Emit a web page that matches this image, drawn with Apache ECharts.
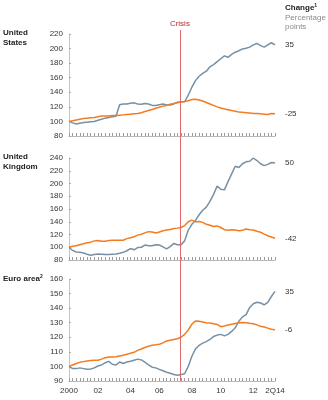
<!DOCTYPE html>
<html>
<head>
<meta charset="utf-8">
<script src="https://cdn.jsdelivr.net/npm/echarts@6/dist/echarts.min.js"></script>
<style>
html,body{margin:0;padding:0;background:#fff;}
#c{width:328px;height:400px;}
</style>
</head>
<body>
<div id="c"></div>
<script>
// Quarters, 1Q00 .. 2Q14
const quarters = [
 '1Q00','2Q00','3Q00','4Q00','1Q01','2Q01','3Q01','4Q01','1Q02','2Q02','3Q02','4Q02',
 '1Q03','2Q03','3Q03','4Q03','1Q04','2Q04','3Q04','4Q04','1Q05','2Q05','3Q05','4Q05',
 '1Q06','2Q06','3Q06','4Q06','1Q07','2Q07','3Q07','4Q07','1Q08','2Q08','3Q08','4Q08',
 '1Q09','2Q09','3Q09','4Q09','1Q10','2Q10','3Q10','4Q10','1Q11','2Q11','3Q11','4Q11',
 '1Q12','2Q12','3Q12','4Q12','1Q13','2Q13','3Q13','4Q13','1Q14','2Q14'
];

// Panels
const regions = ['United\nStates', 'United\nKingdom', 'Euro area'];
const regionNotes = ['', '', '2'];

// Index values (2000 = 100)
const usBlue = [100,98,96.5,97.5,98.5,99,99.5,100,101.5,103,104.5,105.5,106.5,107,123,124,124,125,125.5,124,
 123.5,124.5,124,122,122,123,124,122.5,122.5,124,126.5,127,127,136,147,156,162,166,169,175,
 178,182,186,190,188,192,195,197,199.5,200.5,202,205,207,204,202,205,208,205];
const usOrange = [100,101,102,103,104,104.5,105,105.5,106.5,107.5,107.5,107.5,108,108,108.5,109,109.5,110,110.5,111,
 112,113.5,115,116.5,118,119.5,121,122,123.5,124.5,125.5,126.5,127.5,128.5,130,130.5,129.5,128,126,124,
 122,120,118.5,117,116,115,114,113,112.5,112,111.5,111,111,110.5,110,109.5,111,110.5];

const ukBlue = [100,95,92.5,92,91,89,87.5,88.5,89.5,89,88.5,88.5,89,89.5,90.5,92,94.5,98,96,99.5,
 100,103.5,102.5,102.5,104,103.5,100.5,97.5,101,106,104,104,110,127,136,142,151,158,163,172,
 183,196,191,190,203,215,227,225,231,234,235,240,236,231,228,230,233,232];
const ukOrange = [100,101.5,102.5,104,105.5,107,108,110,110.5,109.5,109.5,110.5,111,111,111,111,113.5,115,116.5,119,
 120.5,122.5,124.5,124,122.5,124,126,127,128,129.5,130,131,134,140,142.5,140,140.5,139,136,134.5,
 132.5,133.5,131,127.5,126.5,127.5,127,126,126.5,128.5,127.5,127,125,123.5,120.5,118,116,114];

const euBlue = [100,98.5,98.5,99,98.5,98,98.3,99,100.3,101,102.5,103.5,101.5,101,103,102,103,103.5,104.3,105,
 104.5,103,101,99.5,99,98,97,96,95.3,94.5,94,94.5,95,100,107,112,114.5,116,117,118.5,
 120.5,121.5,122,121,122,124,126.5,131,134,135.5,140.5,143,144,143.5,142.3,144,148,151.5];
const euOrange = [100,101,102,102.8,103.3,103.7,104,104.2,104.3,105,106,106.4,106.5,106.7,107.2,107.7,108.3,109,109.7,111,
 112,113,113.8,114.5,114.8,115.2,116.2,117.5,118,118.5,119,120,122,125,129,131.2,131,130.5,130,129.8,
 129.3,128.8,127.3,127.8,128.5,129,129.5,130,130.2,130,129.6,129.3,128.5,127.5,127,126.3,125.5,125.2];

// Change, percentage points
const changeBlue = ['35', '50', '35'];
const changeOrange = ['-25', '-42', '-6'];

// Axis ticks
const yMin = [80, 80, 90];
const yMax = [220, 240, 160];
const yStep = [20, 20, 10];
const xTickLabels = ['2000', '02', '04', '06', '08', '10', '12', '2Q14'];
const xTickAt = [2000, 2002, 2004.25, 2006.25, 2008.5, 2010.5, 2012.75, 2014.25];
const crisisAt = 2007.67;
const crisisLabel = 'Crisis';

const FONT = "'Liberation Sans', Arial, sans-serif";
const BLUE = '#7790a3';
const ORANGE = '#f47b20';

function qx(q) { return 2000 + Number(q.slice(2)) + (Number(q[0]) - 1) / 4; }
function pairs(vals) { return vals.map((v, i) => [qx(quarters[i]), v]); }

const panels = [[usBlue, usOrange], [ukBlue, ukOrange], [euBlue, euOrange]];
const tops = [34, 158, 279];
const H = 102;

const grids = [], xAxes = [], yAxes = [], series = [];
for (let p = 0; p < 3; p++) {
  grids.push({ left: 69, width: 206, top: tops[p], height: H });
  xAxes.push({
    type: 'value', gridIndex: p, min: 2000, max: 2014.25, interval: 0.25,
    axisLine: { show: true, lineStyle: { color: '#b8b8b8', width: 1 } },
    axisTick: { show: true, inside: true, length: 3, lineStyle: { color: '#9a9a9a' } },
    splitLine: { show: false },
    axisLabel: {
      show: p === 2, fontFamily: FONT, fontSize: 8, color: '#333', margin: 6,
      formatter: function (v) {
        for (let k = 0; k < xTickAt.length; k++) if (Math.abs(v - xTickAt[k]) < 1e-6) return xTickLabels[k];
        return '';
      }
    }
  });
  yAxes.push({
    type: 'value', gridIndex: p, min: yMin[p], max: yMax[p], interval: yStep[p],
    axisLine: { show: true, lineStyle: { color: '#c4c4c4', width: 1 } },
    axisTick: { show: true, inside: true, length: 2, lineStyle: { color: '#aaa' } },
    splitLine: { show: false },
    axisLabel: { fontFamily: FONT, fontSize: 8, color: '#333', margin: 6 }
  });
  const cols = [BLUE, ORANGE];
  const ch = [changeBlue[p], changeOrange[p]];
  for (let s = 0; s < 2; s++) {
    series.push({
      type: 'line', xAxisIndex: p, yAxisIndex: p, data: pairs(panels[p][s]),
      showSymbol: false, symbol: 'none', smooth: false, silent: true,
      lineStyle: { color: cols[s], width: 1.5 }, itemStyle: { color: cols[s] },
      z: s === 0 ? 3 : 4,
      endLabel: { show: true, formatter: ch[s], fontFamily: FONT, fontSize: 8, color: '#333', distance: 10 }
    });
  }
}
// overlay grid for the crisis marker spanning all panels
grids.push({ left: 69, width: 206, top: 30, height: 351 });
xAxes.push({ type: 'value', gridIndex: 3, min: 2000, max: 2014.25, show: false });
yAxes.push({ type: 'value', gridIndex: 3, min: 0, max: 1, show: false });
series.push({
  type: 'line', xAxisIndex: 3, yAxisIndex: 3, data: [], silent: true,
  markLine: {
    silent: true, symbol: ['none', 'none'], animation: false,
    lineStyle: { color: '#e06a6a', width: 1, type: 'solid' },
    label: { show: true, position: 'end', formatter: crisisLabel, fontFamily: FONT, fontSize: 8, color: '#c0272d', distance: 2 },
    data: [{ xAxis: crisisAt }]
  }
});

const RICH = {
  b: { font: 'bold 8px ' + FONT, fill: '#222', lineHeight: 10 },
  sup: { font: 'bold 5px ' + FONT, fill: '#222', verticalAlign: 'top', padding: [0, 0, 4, 0] }
};
const graphics = [];
for (let p = 0; p < 3; p++) {
  const lines = regions[p].split('\n').map(t => '{b|' + t + '}');
  if (regionNotes[p]) lines[lines.length - 1] += '{sup|' + regionNotes[p] + '}';
  graphics.push({ type: 'text', left: 3, top: tops[p] - 5,
    style: { text: lines.join('\n'), rich: RICH } });
}
graphics.push({ type: 'text', left: 285, top: 3, style: { text: '{b|Change}{sup|1}', rich: RICH } });
graphics.push({ type: 'text', left: 285, top: 13, style: { text: 'Percentage\npoints', font: '8px ' + FONT, fill: '#8a8a8a', lineHeight: 9.5 } });

const chart = echarts.init(document.getElementById('c'), null, { renderer: 'canvas' });
chart.setOption({
  animation: false,
  backgroundColor: '#fff',
  textStyle: { fontFamily: FONT },
  grid: grids, xAxis: xAxes, yAxis: yAxes, series: series,
  graphic: graphics
});
</script>
</body>
</html>
